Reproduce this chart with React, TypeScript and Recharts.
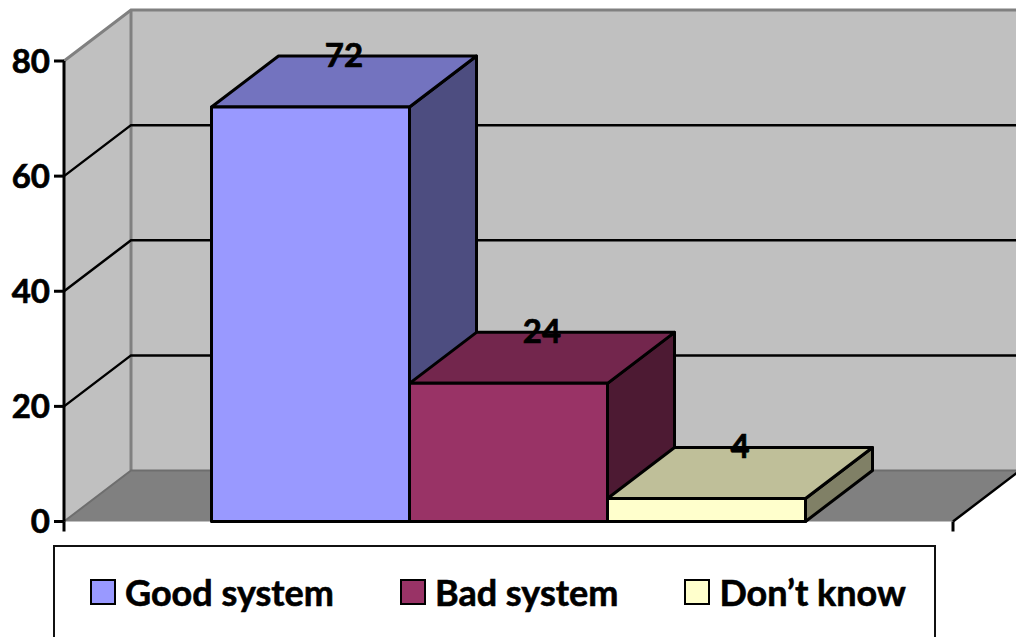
import React from 'react';
import { BarChart, Bar, XAxis, YAxis, CartesianGrid, Legend, LabelList, usePlotArea } from 'recharts';

const categories = ['Responses'];
const seriesNames = ['Good system', 'Bad system', 'Don\u2019t know'];
const seriesValues = [72, 24, 4];
const yTicks = [0, 20, 40, 60, 80];

// front, top and side shades for each series
const frontColors = ['#9999FF', '#993366', '#FFFFCC'];
const topColors = ['#7373BF', '#73264D', '#BFBF99'];
const sideColors = ['#4D4D80', '#4D1A33', '#808066'];

const DEPTH_X = 67;
const DEPTH_Y = 51;
const FONT = 'Lato, sans-serif';
const WALL = '#C0C0C0';
const EDGE = '#808080';

const rows = categories.map((name) => {
  const row: Record<string, string | number> = { name };
  seriesNames.forEach((s, i) => {
    row[s] = seriesValues[i];
  });
  return row;
});

// side wall, back wall and floor behind the bars
const Room = () => {
  const plot = usePlotArea();
  if (!plot) return null;
  const { x, y, width, height } = plot;
  const bottom = y + height;
  const right = x + width;
  return (
    <g>
      <polygon points={`${x},${y} ${x + DEPTH_X},${y - DEPTH_Y} ${x + DEPTH_X},${bottom - DEPTH_Y} ${x},${bottom}`} fill={WALL} />
      <rect x={x + DEPTH_X} y={y - DEPTH_Y} width={width} height={height} fill={WALL} />
      <polygon points={`${x},${bottom} ${right},${bottom} ${right + DEPTH_X},${bottom - DEPTH_Y} ${x + DEPTH_X},${bottom - DEPTH_Y}`} fill={EDGE} />
      <polyline points={`${x},${y} ${x + DEPTH_X},${y - DEPTH_Y} ${right + DEPTH_X},${y - DEPTH_Y}`} fill="none" stroke={EDGE} strokeWidth={3} />
      <line x1={x + DEPTH_X} y1={y - DEPTH_Y} x2={x + DEPTH_X} y2={bottom - DEPTH_Y} stroke={EDGE} strokeWidth={3} />
      <polyline points={`${x},${bottom} ${x + DEPTH_X},${bottom - DEPTH_Y} ${right + DEPTH_X},${bottom - DEPTH_Y}`} fill="none" stroke="#6E6E6E" strokeWidth={2} />
      <line x1={right} y1={bottom} x2={right + DEPTH_X} y2={bottom - DEPTH_Y} stroke="#000" strokeWidth={2.5} />
      <line x1={x} y1={bottom} x2={x} y2={bottom + 10} stroke="#000" strokeWidth={3} />
      <line x1={right} y1={bottom} x2={right} y2={bottom + 10} stroke="#000" strokeWidth={3} />
    </g>
  );
};

// grid line runs up the side wall, then across the back wall
const gridLine = (props: any) => {
  const { x1, x2, y1, y, height, index } = props;
  if (y1 <= y + 1 || y1 >= y + height - 1) return <g key={index} />;
  return (
    <polyline
      key={index}
      points={`${x1},${y1} ${x1 + DEPTH_X},${y1 - DEPTH_Y} ${x2 + DEPTH_X},${y1 - DEPTH_Y}`}
      fill="none"
      stroke="#000"
      strokeWidth={2.5}
    />
  );
};

const boxShape = (seriesIndex: number) => (props: any) => {
  const { x, y, width, height } = props;
  const right = x + width;
  const bottom = y + height;
  return (
    <g stroke="#000" strokeWidth={3} strokeLinejoin="round">
      <polygon
        points={`${right},${y} ${right + DEPTH_X},${y - DEPTH_Y} ${right + DEPTH_X},${bottom - DEPTH_Y} ${right},${bottom}`}
        fill={sideColors[seriesIndex]}
      />
      <polygon
        points={`${x},${y} ${x + DEPTH_X},${y - DEPTH_Y} ${right + DEPTH_X},${y - DEPTH_Y} ${right},${y}`}
        fill={topColors[seriesIndex]}
      />
      <rect x={x} y={y} width={width} height={height} fill={frontColors[seriesIndex]} />
    </g>
  );
};

// value sits on the back edge of the box top
const valueLabel = (props: any) => {
  const { x, y, width, value } = props;
  return (
    <text
      x={x + width / 2 + DEPTH_X / 2}
      y={y - DEPTH_Y - 2}
      textAnchor="middle"
      dominantBaseline="central"
      fontFamily={FONT}
      fontWeight={700}
      fontSize={33}
      stroke="#000"
      strokeWidth={0.7}
      fill="#000"
    >
      {value}
    </text>
  );
};

const LegendBox = () => (
  <div
    style={{
      boxSizing: 'border-box',
      width: 883,
      height: 92,
      border: '2.5px solid #111',
      borderBottom: 'none',
      background: '#fff',
      display: 'flex',
      alignItems: 'center',
      paddingLeft: 35,
      paddingBottom: 0,
      gap: 66,
      fontFamily: FONT,
      fontWeight: 700,
      fontSize: 36,
      WebkitTextStroke: '0.6px #000',
      color: '#000',
      whiteSpace: 'nowrap',
    }}
  >
    {seriesNames.map((name, i) => (
      <div key={name} style={{ display: 'flex', alignItems: 'center' }}>
        <span
          style={{
            boxSizing: 'border-box',
            width: 26,
            height: 26,
            marginRight: 9,
            border: '2.5px solid #000',
            background: frontColors[i],
          }}
        />
        {name}
      </div>
    ))}
  </div>
);

export default function App() {
  return (
    <div style={{ position: 'absolute', left: 0, top: 0, width: 1016, height: 637, overflow: 'hidden', background: '#fff' }}>
      <BarChart
        width={1016}
        height={637}
        data={rows}
        barGap={0}
        barCategoryGap={147.5}
        margin={{ top: 61, right: 63, bottom: 23.5, left: 0 }}
      >
        <Room />
        <CartesianGrid vertical={false} horizontal={gridLine} zIndex={0} />
        <XAxis dataKey="name" tick={false} tickLine={false} height={0} axisLine={{ stroke: '#000', strokeWidth: 3 }} />
        <YAxis
          type="number"
          domain={[0, 80]}
          ticks={yTicks}
          width={64}
          interval={0}
          tickSize={10}
          tickMargin={4}
          axisLine={{ stroke: '#000', strokeWidth: 3 }}
          tickLine={{ stroke: '#000', strokeWidth: 3 }}
          tick={{ fill: '#000', stroke: '#000', strokeWidth: 0.7, fontFamily: FONT, fontWeight: 700, fontSize: 33 }}
        />
        <Legend
          content={LegendBox}
          verticalAlign="bottom"
          wrapperStyle={{ position: 'absolute', left: 53, top: 545, bottom: 'auto', width: 883, height: 92 }}
        />
        {seriesNames.map((name, i) => (
          <Bar key={name} dataKey={name} fill={frontColors[i]} isAnimationActive={false} shape={boxShape(i)}>
            <LabelList dataKey={name} content={valueLabel} />
          </Bar>
        ))}
      </BarChart>
    </div>
  );
}
